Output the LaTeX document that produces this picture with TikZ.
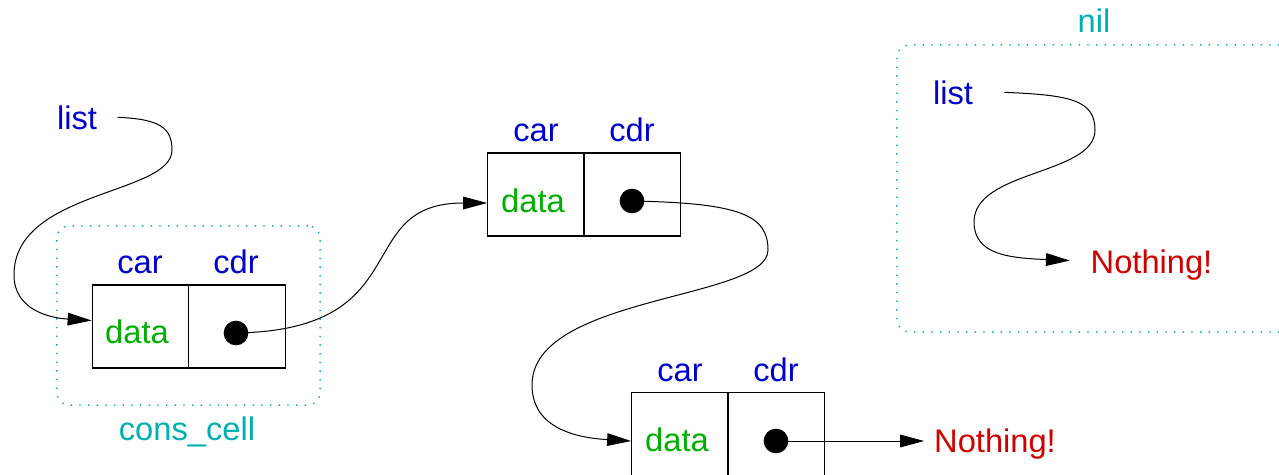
\documentclass[tikz,border=0pt]{standalone}
\usepackage{fontspec}
\setmainfont{Liberation Sans}
\usetikzlibrary{arrows.meta,calc}
\definecolor{xblue}{RGB}{0,0,208}
\definecolor{xgreen}{RGB}{0,176,0}
\definecolor{xred}{RGB}{208,0,0}
\definecolor{xcyan}{RGB}{0,176,176}
\begin{document}
\begin{tikzpicture}[x=0.75pt,y=-0.75pt,
  every node/.style={font=\fontsize{24.5pt}{29pt}\selectfont},
  half/.style={draw, line width=0.9pt, minimum width=72.4pt, minimum height=62.3pt, inner sep=0pt},
  field/.style={xblue, anchor=base},
  datum/.style={xgreen, anchor=base},
  varname/.style={xblue, anchor=base},
  nothing/.style={xred, anchor=base},
  grouplabel/.style={xcyan, anchor=base},
  ptr/.style={circle, fill=black, minimum size=18.5pt, inner sep=0pt},
  frame/.style={draw=xcyan, line width=1.1pt, dash pattern=on 1pt off 5.5pt, rounded corners=9pt, inner sep=0pt},
  arr/.style={line width=0.75pt, -{Triangle[length=18pt,width=9.5pt]}}]
\path[use as bounding box] (0,0) rectangle (1279,475);

% group frames
\node[frame, minimum width=197.3pt, minimum height=134.3pt] (consframe) at (188.5,315.5) {};
\node[grouplabel] (conslabel) at (187,440) {cons\_cell};
\node[frame, minimum width=302.3pt, minimum height=215.3pt] (nilframe) at (1098.5,188.5) {};
\node[grouplabel] (nillabel) at (1094,32) {nil};

% cell 1
\node[half] (car1) at (140.5,326.5) {};
\node[half] (cdr1) at (237,326.5) {};
\node[field] (carl1) at (140,273) {car};
\node[field] (cdrl1) at (236,273) {cdr};
\node[datum] (data1) at (137,343) {data};
\node[ptr] (dot1) at (236,333) {};

% cell 2
\node[half] (car2) at (536,194.5) {};
\node[half] (cdr2) at (632,194.5) {};
\node[field] (carl2) at (536,141) {car};
\node[field] (cdrl2) at (632,141) {cdr};
\node[datum] (data2) at (533,212) {data};
\node[ptr] (dot2) at (632,201) {};

% cell 3
\node[half] (car3) at (680,434) {};
\node[half] (cdr3) at (776,434) {};
\node[field] (carl3) at (680,381) {car};
\node[field] (cdrl3) at (776,381) {cdr};
\node[datum] (data3) at (677,451) {data};
\node[ptr] (dot3) at (776,441) {};

% variables and terminators
\node[varname] (list1) at (77,129) {list};
\node[varname] (list2) at (953,104) {list};
\node[nothing] (none1) at (1151.5,273) {Nothing!};
\node[nothing] (none2) at (995,452) {Nothing!};

% pointers
\draw[arr] ([xshift=12pt]list1.east) .. controls (160,119) and (172,128) .. (172,150)
  .. controls (172,195) and (14,190) .. (14,275)
  .. controls (14,310) and (50,318) .. ($(car1.west)+(0,-6)$);
\draw[arr] (dot1.center) .. controls (420,330) and (350,203) .. ($(car2.west)+(0,8.5)$);
\draw[arr] (dot2.center) .. controls (740,203) and (768,215) .. (768,250)
  .. controls (768,300) and (532,295) .. (532,385)
  .. controls (532,430) and (580,438) .. ($(car3.west)+(0,7)$);
\draw[arr] (dot3.center) -- ([xshift=-4pt]none2.west |- dot3.center);
\draw[arr] ([xshift=20pt]list2.east) .. controls (1070,95) and (1095,100) .. (1095,130)
  .. controls (1095,175) and (974,170) .. (974,222)
  .. controls (974,255) and (1010,258) .. ([xshift=-12pt,yshift=3pt]none1.west);
\end{tikzpicture}
\end{document}
